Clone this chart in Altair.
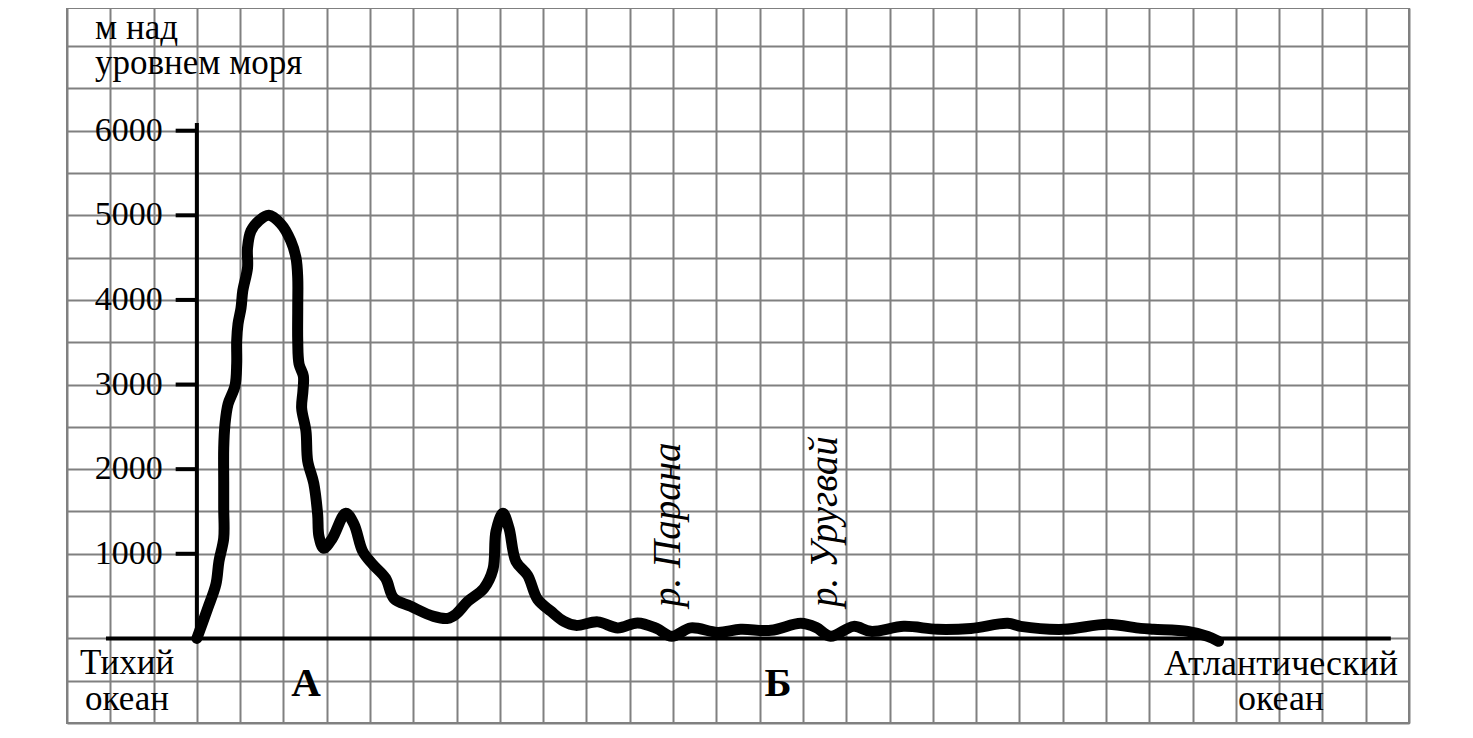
import altair as alt
import pandas as pd

# Profile: distance in grid cells from the Pacific coast, elevation in metres
dist = [0.0, 0.25, 0.44, 0.51, 0.62, 0.62, 0.62, 0.62, 0.65, 0.72, 0.88, 0.92, 0.92, 0.95,
        1.02, 1.06, 1.17, 1.17, 1.25, 1.43, 1.66, 1.94, 2.17, 2.29, 2.33, 2.33, 2.33, 2.36,
        2.46, 2.45, 2.42, 2.52, 2.56, 2.70, 2.79, 2.82, 2.93, 3.13, 3.44, 3.63, 3.83, 4.06,
        4.36, 4.55, 4.94, 5.47, 5.80, 5.98, 6.26, 6.63, 6.84, 6.91, 7.07, 7.21, 7.37, 7.64,
        7.87, 8.18, 8.48, 8.75, 9.26, 9.72, 10.18, 10.62, 10.97, 11.41, 12.03, 12.56, 13.26,
        13.95, 14.30, 14.64, 15.17, 15.57, 16.33, 17.11, 17.88, 18.73, 19.03, 20.02, 21.04,
        21.80, 22.10, 22.89, 23.35, 23.60]
elev = [0, 355, 639, 911, 1183, 1538, 1858, 2249, 2532, 2769, 2982, 3243, 3515, 3716,
        3905, 4106, 4379, 4615, 4816, 4935, 5000, 4899, 4698, 4497, 4260, 3905, 3515, 3243,
        3100, 2923, 2722, 2450, 2095, 1834, 1467, 1207, 1065, 1183, 1479, 1349, 1030, 876,
        710, 473, 379, 260, 237, 284, 438, 592, 817, 1266, 1479, 1302, 911, 746,
        462, 320, 201, 154, 195, 124, 183, 118, 24, 124, 71, 107, 95,
        178, 130, 24, 142, 83, 142, 107, 118, 178, 142, 107, 166,
        118, 107, 83, 24, -35]

y_ticks = [1000, 2000, 3000, 4000, 5000, 6000]
y_title = ["м над", "уровнем моря"]
left_label = ["Тихий", "океан"]
right_label = ["Атлантический", "океан"]
point_a = "А"
point_b = "Б"
river_1 = "р. Парана"
river_2 = "р. Уругвай"

X_DOM = [-3, 28]
Y_DOM = [-1000, 7450]
FONT = "Liberation Serif"

profile = pd.DataFrame({"d": dist, "h": elev, "i": range(len(dist))})
ticks = pd.DataFrame({"v": y_ticks, "lab": [str(t) for t in y_ticks]})

xs = alt.Scale(domain=X_DOM, nice=False, zero=False)
ys = alt.Scale(domain=Y_DOM, nice=False, zero=False)

grid_x = alt.Axis(values=list(range(-3, 29)), grid=True, labels=False, ticks=False,
                  domain=False, title=None, gridColor="#808080", gridWidth=2, gridOpacity=1)
grid_y = alt.Axis(values=list(range(-1000, 7501, 500)), grid=True, labels=False, ticks=False,
                  domain=False, title=None, gridColor="#808080", gridWidth=2, gridOpacity=1)

base = alt.Chart(profile)

grid = base.mark_point(opacity=0).encode(
    x=alt.X("d:Q", scale=xs, axis=grid_x),
    y=alt.Y("h:Q", scale=ys, axis=grid_y),
)

x_axis = alt.Chart(pd.DataFrame({"a": [-2.1], "b": [27.58], "y": [0]})).mark_rule(
    color="black", strokeWidth=4).encode(
    x=alt.X("a:Q", scale=xs), x2="b:Q", y=alt.Y("y:Q", scale=ys))

y_axis = alt.Chart(pd.DataFrame({"x": [0], "a": [0], "b": [6090]})).mark_rule(
    color="black", strokeWidth=4).encode(
    x=alt.X("x:Q", scale=xs), y=alt.Y("a:Q", scale=ys), y2="b:Q")

tick_marks = alt.Chart(ticks).mark_rule(color="black", strokeWidth=4).encode(
    x=alt.datum(-0.49, scale=xs), x2=alt.datum(0), y=alt.Y("v:Q", scale=ys))

tick_labels = alt.Chart(ticks).mark_text(
    font=FONT, fontSize=34, align="right", baseline="middle", dx=-34, color="black").encode(
    x=alt.datum(0, scale=xs), y=alt.Y("v:Q", scale=ys), text="lab:N")

line = base.mark_line(color="black", strokeWidth=11, strokeCap="round", strokeJoin="round",
                      interpolate="catmull-rom").encode(
    x=alt.X("d:Q", scale=xs), y=alt.Y("h:Q", scale=ys), order="i:Q")


def txt(text, x, y, **kw):
    opts = dict(font=FONT, fontSize=34, color="black")
    opts.update(kw)
    return alt.Chart(pd.DataFrame({"t": [0]})).mark_text(text=text, **opts).encode(
        x=alt.value(x), y=alt.value(y))


labels = [
    txt(y_title, 28, 31, align="left", baseline="alphabetic", lineHeight=35, fontSize=35),
    txt(left_label, 60, 666, align="center", baseline="alphabetic", lineHeight=36, fontSize=35),
    txt(right_label, 1214, 667, align="center", baseline="alphabetic", lineHeight=35, fontSize=36),
    txt(point_a, 239, 688, align="center", baseline="alphabetic", fontSize=41, fontWeight="bold"),
    txt(point_b, 711, 688, align="center", baseline="alphabetic", fontSize=41, fontWeight="bold"),
    txt(river_1, 613, 599, align="left", baseline="alphabetic", angle=270, fontStyle="italic",
        fontSize=39),
    txt(river_2, 770, 599, align="left", baseline="alphabetic", angle=270, fontStyle="italic",
        fontSize=39),
]

chart = alt.layer(grid, x_axis, y_axis, tick_marks, tick_labels, line, *labels).properties(
    width=1342, height=715,
    padding={"left": 59, "top": 0, "right": 50, "bottom": 5},
    autosize=alt.AutoSizeParams(type="none"),
    background="white",
).configure_view(stroke="#808080", strokeWidth=2)

chart.save("out.html", embed_options={"renderer": "svg", "actions": False})
